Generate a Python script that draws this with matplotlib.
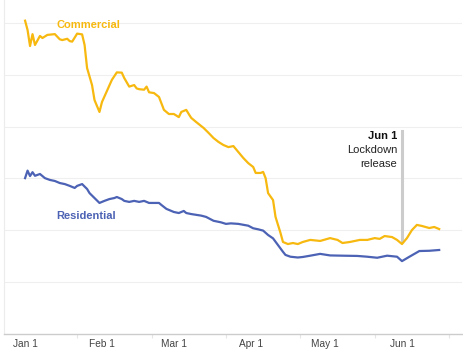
#!/usr/bin/env python3
"""Commercial vs residential activity index, Jan-Jun 2020."""

import matplotlib
matplotlib.use("Agg")
import matplotlib.pyplot as plt
import matplotlib.dates as mdates
import pandas as pd

START = pd.Timestamp("2020-01-01")

# day offsets from Jan 1 and index values
commercial_days = [
    0, 1, 2, 3, 4, 6, 7, 9, 12, 14, 15, 17, 18, 19, 21, 23, 24, 25, 27, 28,
    30, 31, 33, 35, 37, 39, 40, 42, 44, 45, 46, 48, 49, 50, 52, 54, 56, 58,
    60, 62, 63, 65, 66, 67, 69, 72, 74, 76, 78, 80, 82, 84, 86, 88, 90, 92,
    93, 95, 96, 97, 98, 100, 101, 103, 104, 106, 108, 110, 112, 115, 119,
    123, 126, 128, 131, 135, 138, 141, 143, 145, 148, 150, 152, 154, 156,
    158, 160, 163, 165, 167,
]
commercial = [
    121.0, 117.4, 111.2, 115.8, 111.6, 115.1, 114.3, 115.5, 115.8, 113.8,
    113.5, 114.0, 113.1, 112.9, 116.0, 115.7, 111.6, 102.7, 96.1, 90.3,
    85.7, 89.5, 93.8, 98.1, 101.0, 100.9, 98.8, 95.5, 96.1, 94.8,
    94.5, 94.3, 95.5, 93.3, 93.0, 91.5, 86.5, 84.9, 84.9, 83.7,
    85.7, 86.5, 84.9, 83.4, 81.8, 79.5, 77.6, 75.6, 74.1, 72.9,
    72.1, 72.5, 70.2, 67.9, 65.9, 64.4, 62.1, 62.1, 62.5, 60.1,
    54.3, 51.6, 45.1, 38.9, 35.4, 34.6, 35.0, 34.6, 35.4, 36.2,
    35.8, 36.9, 36.2, 35.0, 35.4, 36.2, 36.2, 36.9, 36.6, 37.7,
    37.3, 36.2, 34.6, 36.9, 40.0, 42.0, 41.6, 40.8, 41.2, 40.4,
]

residential_days = [
    0, 1, 2, 3, 4, 6, 8, 10, 12, 14, 16, 18, 20, 21, 23, 25, 26, 28, 30, 32,
    34, 36, 37, 39, 40, 42, 44, 46, 48, 50, 54, 55, 57, 60, 62, 64, 65, 67,
    71, 73, 76, 79, 81, 83, 86, 90, 92, 94, 96, 98, 100, 102, 104, 105, 107,
    110, 112, 115, 119, 123, 128, 134, 138, 142, 146, 150, 152, 155, 159,
    163, 167,
]
residential = [
    60.1, 63.0, 60.9, 62.4, 61.0, 61.7, 60.1, 59.4, 59.0, 58.2,
    57.8, 57.1, 56.3, 57.1, 57.8, 55.9, 54.3, 52.4, 50.5, 51.3,
    52.0, 52.4, 52.8, 52.0, 51.3, 50.9, 51.3, 50.9, 51.3, 50.5,
    50.5, 49.7, 48.2, 47.0, 46.6, 47.4, 46.6, 46.2, 45.6, 45.1,
    43.6, 43.0, 42.4, 42.6, 42.4, 41.7, 40.7, 40.3, 39.8, 38.1,
    36.8, 34.2, 31.6, 30.4, 29.7, 29.4, 29.6, 30.1, 30.8, 30.2,
    30.1, 30.0, 29.7, 29.3, 30.1, 29.7, 28.0, 29.7, 31.9, 32.0,
    32.3,
]

month_ticks = ["2020-01-01", "2020-02-01", "2020-03-01", "2020-04-01", "2020-05-01", "2020-06-01"]
tick_labels = ["Jan 1", "Feb 1", "Mar 1", "Apr 1", "May 1", "Jun 1"]
minor_ticks = ["2020-01-22", "2020-02-21", "2020-03-22", "2020-04-21", "2020-05-21", "2020-06-20"]
grid_values = [20, 40, 60, 80, 100, 120]

YELLOW = "#F7B90F"
BLUE = "#4C62B4"


def to_dates(days):
    return START + pd.to_timedelta(days, unit="D")


def main() -> None:
    plt.rcParams["font.family"] = ["Liberation Sans", "DejaVu Sans"]
    fig = plt.figure(figsize=(4.64, 3.53), dpi=100)
    ax = fig.add_axes([4 / 464, 1 - 333.5 / 353, 458 / 464, 333.5 / 353])

    ax.plot(to_dates(commercial_days), commercial, color=YELLOW, linewidth=1.6, zorder=3)
    ax.plot(to_dates(residential_days), residential, color=BLUE, linewidth=1.6, zorder=3)

    ax.set_xlim(START - pd.Timedelta(days=8.5), START + pd.Timedelta(days=176.2))
    ax.set_ylim(0, 129)

    for v in grid_values:
        ax.axhline(v, color="#efefef", linewidth=0.8, zorder=0)

    ax.set_xticks(pd.to_datetime(month_ticks))
    ax.set_xticklabels(tick_labels, fontsize=7.3, color="#444444")
    ax.set_xticks(pd.to_datetime(minor_ticks), minor=True)
    ax.tick_params(axis="x", which="major", length=0, pad=4)
    ax.tick_params(axis="x", which="minor", length=3, color="#e6e6e6", width=0.8)
    ax.set_yticks([])

    for side in ("top", "right"):
        ax.spines[side].set_visible(False)
    ax.spines["left"].set_color("#ececec")
    ax.spines["left"].set_linewidth(0.8)
    ax.spines["bottom"].set_color("#cccccc")
    ax.spines["bottom"].set_linewidth(1.0)

    # lockdown release marker
    jun1 = pd.Timestamp("2020-06-01")
    ax.plot([jun1, jun1], [35.8, 78.3], color="#cccccc", linewidth=2.2, zorder=2)
    ax.text(jun1 - pd.Timedelta(days=2), 76.5, "Jun 1", fontsize=8, fontweight="bold",
            ha="right", va="center", color="#111111")
    ax.text(jun1 - pd.Timedelta(days=2), 71.0, "Lockdown", fontsize=8,
            ha="right", va="center", color="#222222")
    ax.text(jun1 - pd.Timedelta(days=2), 65.7, "release", fontsize=8,
            ha="right", va="center", color="#222222")

    ax.text(START + pd.Timedelta(days=12.5), 119.5, "Commercial", fontsize=8, fontweight="bold",
            color=YELLOW, ha="left", va="center")
    ax.text(START + pd.Timedelta(days=12.5), 45.5, "Residential", fontsize=8, fontweight="bold",
            color=BLUE, ha="left", va="center")

    fig.savefig("out.png", dpi=100, facecolor="white")
    plt.close(fig)


if __name__ == "__main__":
    main()
